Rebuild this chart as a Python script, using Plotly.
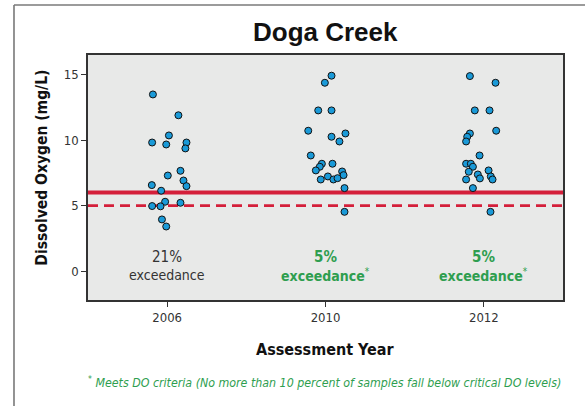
import plotly.graph_objects as go

# ---- data ----
years = ["2006", "2010", "2012"]

do_2006 = [13.49, 11.9, 10.36, 9.82, 9.67, 9.82, 9.37, 7.66, 7.3, 6.92,
           6.57, 6.49, 6.14, 5.3, 4.95, 4.97, 5.22, 3.95, 3.41]
jit_2006 = [-0.090, 0.071, 0.011, -0.095, -0.006, 0.122, 0.115, 0.084, 0.004, 0.103,
            -0.097, 0.122, -0.038, -0.013, -0.042, -0.095, 0.084, -0.033, -0.006]

do_2010 = [14.92, 14.38, 12.27, 12.27, 10.72, 10.51, 10.26, 9.9, 8.83, 8.2,
           8.2, 7.97, 7.69, 7.61, 7.33, 7.0, 7.23, 7.0, 7.1, 6.34, 4.53]
jit_2010 = [0.038, -0.004, -0.046, 0.038, -0.109, 0.126, 0.038, 0.088, -0.093, -0.023,
            0.044, -0.036, -0.061, 0.105, 0.114, -0.030, 0.015, 0.050, 0.076, 0.120, 0.120]

do_2012 = [14.89, 14.38, 12.27, 12.27, 10.72, 10.51, 10.26, 9.9, 8.83, 8.2,
           8.2, 7.97, 7.59, 7.69, 7.38, 7.23, 7.08, 7.0, 7.0, 6.34, 4.53]
jit_2012 = [-0.088, 0.074, -0.057, 0.036, 0.078, -0.088, -0.105, -0.112, -0.027, -0.112,
            -0.082, -0.069, -0.095, 0.030, -0.038, 0.044, -0.025, -0.112, 0.055, -0.069, 0.042]

exceed_pct = ["21%", "5%", "5%"]
meets = [False, True, True]

criterion_solid = 6.0
criterion_dashed = 5.0

# ---- styles ----
FONT = "DejaVu Sans Condensed, DejaVu Sans, sans-serif"
GREEN = "#2e9e4f"
RED = "#d41f3a"
BLUE = "#1a9ad8"

fig = go.Figure()

groups = [(do_2006, jit_2006), (do_2010, jit_2010), (do_2012, jit_2012)]
for i, (vals, jit) in enumerate(groups):
    fig.add_trace(go.Scatter(
        x=[i + j for j in jit], y=vals, mode="markers",
        marker=dict(size=7, color=BLUE, line=dict(color="#111111", width=1)),
        showlegend=False, hoverinfo="y"))

fig.add_hline(y=criterion_solid, line=dict(color=RED, width=4), layer="below")
fig.add_hline(y=criterion_dashed, line=dict(color=RED, width=2.7, dash="10px,6px"), layer="below")

for i, (pct, ok) in enumerate(zip(exceed_pct, meets)):
    col = GREEN if ok else "#333333"
    t1 = f"<b>{pct}</b>" if ok else pct
    t2 = "<b>exceedance</b><sup>*</sup>" if ok else "exceedance"
    fig.add_annotation(x=i, y=1.12, xref="x", yref="y", text=t1, showarrow=False,
                       font=dict(family=FONT, size=15, color=col), yanchor="middle")
    fig.add_annotation(x=i, y=-0.3, xref="x", yref="y", text=t2, showarrow=False,
                       font=dict(family=FONT, size=14, color=col), yanchor="middle")

# outer frame lines (left and top)
fig.add_shape(type="line", xref="paper", yref="paper", x0=-0.1558, x1=-0.1558, y0=-0.45, y1=1.204,
              line=dict(color="#6f6f6f", width=1.5))
fig.add_shape(type="line", xref="paper", yref="paper", x0=-0.1558, x1=1.06, y0=1.204, y1=1.204,
              line=dict(color="#7a7a7a", width=1.5))

# title
fig.add_annotation(x=0.5, y=1.094, xref="paper", yref="paper", text="<b>Doga Creek</b>",
                   showarrow=False, font=dict(family="Liberation Sans, Arial, sans-serif", size=26, color="#111111"),
                   yanchor="middle")
# y axis title
fig.add_annotation(x=-0.097, y=0.54, xref="paper", yref="paper", text="<b>Dissolved Oxygen (mg/L)</b>",
                   showarrow=False, textangle=-90, font=dict(family=FONT, size=15.5, color="#111111"),
                   xanchor="center", yanchor="middle")
# x axis title
fig.add_annotation(x=0.5, y=-0.204, xref="paper", yref="paper", text="<b>Assessment Year</b>",
                   showarrow=False, font=dict(family=FONT, size=16, color="#111111"),
                   yanchor="middle")
# footnote
fig.add_annotation(x=0.497, y=-0.335, xref="paper", yref="paper",
                   text="<i><sup>*</sup> Meets DO criteria (No more than 10 percent of samples fall below critical DO levels)</i>",
                   showarrow=False, font=dict(family=FONT, size=12.3, color=GREEN),
                   yanchor="middle")

fig.update_layout(
    width=585, height=406,
    margin=dict(l=88, r=22, t=55, b=106),
    paper_bgcolor="white", plot_bgcolor="#e8e9e8",
    showlegend=False,
    xaxis=dict(range=[-0.5, 2.5], tickmode="array", tickvals=[0, 1, 2], ticktext=years,
               showgrid=False, zeroline=False, ticks="outside", ticklen=5, tickwidth=1,
               tickcolor="#333333", showline=True, linecolor="#333333", linewidth=1.5, mirror=True,
               tickfont=dict(family=FONT, size=13, color="#333333")),
    yaxis=dict(range=[-2.2, 16.5], tickmode="array", tickvals=[0, 5, 10, 15],
               showgrid=False, zeroline=False, ticks="outside", ticklen=5, tickwidth=1,
               tickcolor="#333333", showline=True, linecolor="#333333", linewidth=1.5, mirror=True,
               tickfont=dict(family=FONT, size=13, color="#333333")),
)

fig.write_html("out.html", config={"displayModeBar": False},
               post_script="document.body.style.margin='0';document.body.style.padding='0';")
